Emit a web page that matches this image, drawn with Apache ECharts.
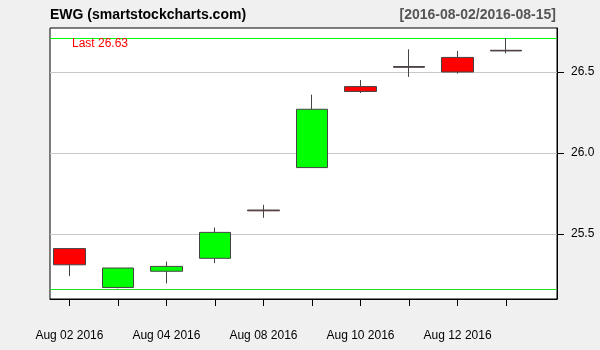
<!DOCTYPE html>
<html><head><meta charset="utf-8">
<script src="https://cdn.jsdelivr.net/npm/echarts@6/dist/echarts.min.js"></script>
<style>html,body{margin:0;padding:0;background:#f0f0f0}#c{width:600px;height:350px}</style>
</head><body><div id="c"></div>
<script>
const dates = ['Aug 02 2016','Aug 03 2016','Aug 04 2016','Aug 05 2016','Aug 08 2016','Aug 09 2016','Aug 10 2016','Aug 11 2016','Aug 12 2016','Aug 15 2016'];
const opens  = [25.41, 25.17, 25.27, 25.35, 25.648, 25.91, 26.41, 26.534, 26.59, 26.634];
const closes = [25.31, 25.29, 25.30, 25.51, 25.643, 26.27, 26.38, 26.529, 26.50, 26.63];
const lows   = [25.24, 25.165, 25.195, 25.32, 25.60, 25.91, 26.37, 26.47, 26.49, 26.615];
const highs  = [25.41, 25.29, 25.33, 25.54, 25.68, 26.36, 26.45, 26.64, 26.63, 26.71];
const yTicks = [25.5, 26.0, 26.5];
const xLabelIdx = [0, 2, 4, 6, 8];
const titleLeft = 'EWG (smartstockcharts.com)';
const titleRight = '[2016-08-02/2016-08-15]';

const FONT = 'Liberation Sans, Arial, sans-serif';
const candleData = dates.map((d, i) => [i, opens[i], closes[i], lows[i], highs[i]]);
const maxHigh = Math.max(...highs);
const minLow = Math.min(...lows);
const lastClose = closes[closes.length - 1];

const chart = echarts.init(document.getElementById('c'), null, {renderer: 'canvas'});
chart.setOption({
  animation: false,
  backgroundColor: '#f0f0f0',
  textStyle: {fontFamily: FONT},
  title: [
    {text: titleLeft, left: 50, top: 8, padding: 0,
     textStyle: {fontSize: 14, fontWeight: 'bold', color: '#000', fontFamily: FONT}},
    {text: titleRight, right: 44, top: 8, padding: 0,
     textStyle: {fontSize: 14, fontWeight: 'bold', color: '#555', fontFamily: FONT}},
    {text: 'Last ' + lastClose.toFixed(2), left: 72, top: 38, padding: 0,
     textStyle: {fontSize: 12, fontWeight: 'normal', color: '#ff0000', fontFamily: FONT}}
  ],
  grid: {left: 50, top: 28, width: 507, height: 271, show: true,
         backgroundColor: '#ffffff', borderColor: '#000', borderWidth: 1},
  xAxis: {
    type: 'value', min: -0.4, max: 10.05,
    axisLine: {show: true, onZero: false, lineStyle: {color: '#000', width: 1}},
    axisTick: {show: true, length: 7, customValues: dates.map((d, i) => i), lineStyle: {color: '#000'}},
    axisLabel: {show: true, customValues: xLabelIdx, margin: 31, fontSize: 12, color: '#000',
                fontFamily: FONT, formatter: v => dates[Math.round(v)] || ''},
    splitLine: {show: false}
  },
  yAxis: {
    type: 'value', position: 'right', min: 25.0988, max: 26.7716, scale: true,
    axisLine: {show: true, onZero: false, lineStyle: {color: '#000', width: 1}},
    axisTick: {show: true, length: 7, customValues: yTicks, lineStyle: {color: '#000'}},
    axisLabel: {show: true, customValues: yTicks, margin: 14, fontSize: 12, color: '#000',
                fontFamily: FONT, formatter: v => v.toFixed(1)},
    splitLine: {show: false}
  },
  series: [
    {
      type: 'line', data: [], z: 1, silent: true,
      markLine: {
        z: 1, silent: true, symbol: 'none', label: {show: false}, animation: false,
        data: [
          ...yTicks.map(v => ({yAxis: v, lineStyle: {color: '#c8c8c8', width: 1, type: 'solid'}})),
          {yAxis: maxHigh, lineStyle: {color: '#00ff00', width: 1, type: 'solid'}},
          {yAxis: minLow, lineStyle: {color: '#22dd22', width: 1, type: 'solid'}}
        ]
      }
    },
    {
      type: 'candlestick', z: 3,
      encode: {x: 0, y: [1, 2, 3, 4]},
      data: candleData,
      barWidth: 32,
      itemStyle: {
        color: '#00ff00', color0: '#ff0000',
        borderColor: '#444444', borderColor0: '#444444', borderColorDoji: '#444444',
        borderWidth: 1
      }
    }
  ]
});
</script></body></html>
